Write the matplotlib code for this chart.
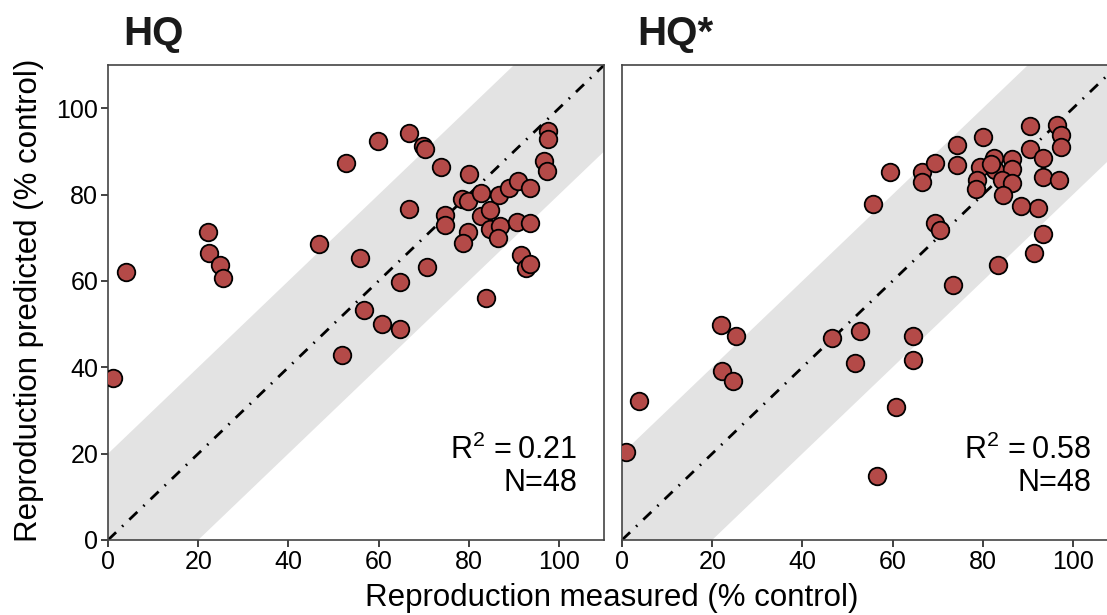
import matplotlib
matplotlib.use("Agg")
import matplotlib.pyplot as plt
import numpy as np

plt.rcParams['font.family'] = ['Liberation Sans', 'DejaVu Sans']
plt.rcParams['mathtext.fontset'] = 'custom'
plt.rcParams['mathtext.rm'] = 'Liberation Sans'
plt.rcParams['mathtext.it'] = 'Liberation Sans'

# ======== Dados =========
hq_measured = [1, 4, 22.2, 22.5, 24.9, 25.5, 46.8, 51.9, 52.8, 55.8, 56.7, 59.8,
               60.8, 64.7, 64.7, 66.7, 66.7, 69.8, 70.2, 70.7, 73.8, 74.8, 74.8, 78.6,
               79.8, 79.9, 78.8, 80.0, 82.7, 82.7, 83.8, 84.8, 84.8, 86.8, 86.9, 86.5,
               89.0, 90.9, 90.7, 91.7, 92.7, 93.7, 93.7, 93.7, 96.7, 97.3, 97.6, 97.6]
hq_predicted = [37.6, 62.2, 71.4, 66.4, 63.7, 60.7, 68.5, 42.9, 87.4, 65.3, 53.3, 92.4,
                50.0, 59.7, 48.8, 94.2, 76.7, 91.2, 90.5, 63.3, 86.4, 75.2, 72.9, 78.9,
                78.5, 71.4, 68.8, 84.9, 80.5, 75.0, 56.0, 76.4, 72.0, 80.0, 72.7, 70.0,
                81.5, 83.1, 73.7, 66.0, 63.1, 63.9, 81.6, 73.4, 87.9, 85.4, 94.7, 92.9]

hqs_measured = [0.8, 3.8, 21.9, 25.3, 22.2, 24.7, 46.5, 52.7, 51.6, 56.6, 60.7, 64.5,
                64.5, 55.6, 59.5, 66.5, 66.5, 69.5, 74.4, 74.4, 80.0, 69.5, 70.6, 73.4,
                83.4, 91.4, 93.4, 92.3, 88.5, 82.5, 79.5, 82.7, 86.5, 86.5, 78.8, 78.5,
                84.2, 86.5, 84.5, 90.4, 90.4, 93.4, 93.4, 97.0, 96.5, 97.4, 97.4, 81.8]
hqs_predicted = [20.4, 32.2, 49.7, 47.2, 39.1, 36.8, 46.7, 48.5, 41.0, 14.8, 30.9, 47.3,
                 41.7, 77.9, 85.3, 85.3, 82.9, 87.4, 91.6, 86.8, 93.3, 73.5, 71.8, 59.0,
                 63.7, 66.4, 70.8, 76.8, 77.4, 88.6, 86.3, 85.8, 88.2, 85.9, 83.5, 81.2,
                 83.5, 82.7, 79.9, 95.8, 90.6, 88.4, 84.1, 83.5, 96.2, 93.9, 91.0, 87.0]

paineis = ["HQ", "HQ*"]
r2_textos = ["0.21", "0.58"]
n_valores = [48, 48]
ticks = [0, 20, 40, 60, 80, 100]
faixa = 20  # largura da faixa cinza (+/-)

cor_ponto = "#b44a48"

# ======== Figura =========
fig = plt.figure(figsize=(11.07, 6.15), dpi=100)
ax1 = fig.add_axes([0.0976, 0.122, 0.448, 0.772])
ax2 = fig.add_axes([0.5619, 0.122, 0.448, 0.772])

dados = [(hq_measured, hq_predicted), (hqs_measured, hqs_predicted)]

for i, ax in enumerate([ax1, ax2]):
    xs, ys = dados[i]
    linha = np.array([0, 110])
    ax.fill_between(linha, linha - faixa, linha + faixa, color="#e3e3e3", lw=0, zorder=1)
    ax.plot(linha, linha, color="black", lw=2.0, linestyle=(0, (4, 3, 0.6, 3)), zorder=2)
    ax.scatter(xs, ys, s=160, facecolor=cor_ponto, edgecolor="black", linewidth=1.3, zorder=3)

    ax.set_xlim(0, 110)
    ax.set_ylim(0, 110)
    ax.set_xticks(ticks)
    ax.set_yticks(ticks)
    ax.tick_params(labelsize=18, length=5, width=1.3, color="#333333", pad=2)
    for s in ax.spines.values():
        s.set_color("#444444")
        s.set_linewidth(1.2)

    ax.text(0.03, 1.025, paineis[i], transform=ax.transAxes, fontsize=29,
            fontweight="bold", ha="left", va="bottom", color="#1a1a1a")
    ax.text(0.946, 0.088, f"R$^2$ =\u2009{r2_textos[i]}\nN={n_valores[i]}",
            transform=ax.transAxes, fontsize=22, ha="right", va="bottom",
            multialignment="right", linespacing=1.1)

ax2.tick_params(labelleft=False, left=False)

fig.text(0.026, 0.512, "Reproduction predicted (% control)", rotation=90,
         fontsize=22.5, ha="center", va="center")
fig.text(0.553, 0.028, "Reproduction measured (% control)", fontsize=22.5,
         ha="center", va="center")

fig.savefig("out.png", dpi=100)
